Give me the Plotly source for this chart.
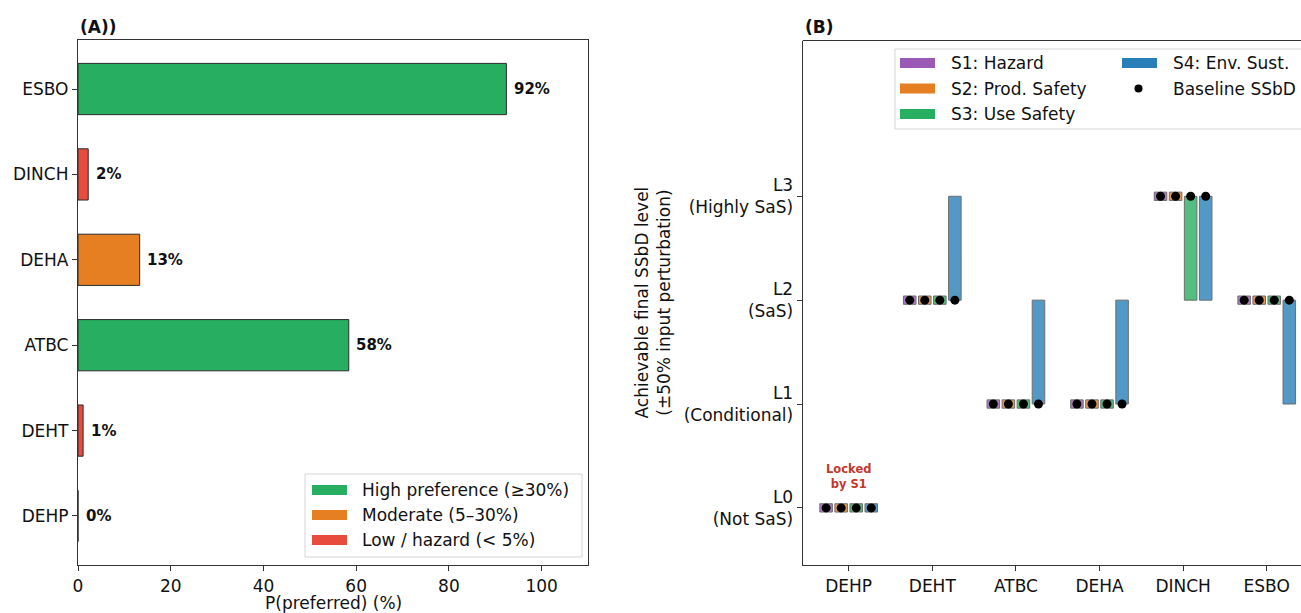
import plotly.graph_objects as go

# ---------------- Data ----------------
# Panel A
chem_A = ["DEHP", "DEHT", "ATBC", "DEHA", "DINCH", "ESBO"]  # bottom -> top
p_pref = [0.0, 1.1, 58.4, 13.3, 2.2, 92.4]
pref_class = ["low", "low", "high", "moderate", "low", "high"]
class_colors = {"high": "#27ae60", "moderate": "#e67e22", "low": "#e74c3c"}
legend_A_labels = ["High preference (\u226530%)", "Moderate (5\u201330%)", "Low / hazard (< 5%)"]
legend_A_keys = ["high", "moderate", "low"]

# Panel B
chem_B = ["DEHP", "DEHT", "ATBC", "DEHA", "DINCH", "ESBO"]
level_labels = ["L0<br>(Not SaS)", "L1<br>(Conditional)", "L2<br>(SaS)", "L3<br>(Highly SaS)"]
baseline = [0, 2, 1, 1, 3, 2]
strategies = ["S1: Hazard", "S2: Prod. Safety", "S3: Use Safety", "S4: Env. Sust."]
strat_colors = ["#9b59b6", "#e67e22", "#27ae60", "#2980b9"]
s_low = [
    [0, 2, 1, 1, 3, 2],   # S1
    [0, 2, 1, 1, 3, 2],   # S2
    [0, 2, 1, 1, 2, 2],   # S3
    [0, 2, 1, 1, 2, 1],   # S4
]
s_high = [
    [0, 2, 1, 1, 3, 2],
    [0, 2, 1, 1, 3, 2],
    [0, 2, 1, 1, 3, 2],
    [0, 3, 2, 2, 3, 2],
]
offsets = [-0.27, -0.09, 0.09, 0.27]
bar_w = 0.15
min_h = 0.08

W, H = 1301, 613
FONT = "DejaVu Sans"
TXT = "#111111"
AX = "#333333"


def px(x):
    return x / W


def py(y):
    return 1 - y / H


fig = go.Figure()

# ---------------- Panel A bars ----------------
fig.add_trace(go.Bar(
    x=p_pref, y=chem_A, orientation="h", width=0.6,
    marker=dict(color=[class_colors[c] for c in pref_class],
                line=dict(color="#2b2b2b", width=1)),
    xaxis="x", yaxis="y", showlegend=False, hoverinfo="x+y",
))

annotations = []
for c, v in zip(chem_A, p_pref):
    annotations.append(dict(
        x=v + 1.2, y=c, xref="x", yref="y", text=f"<b>{v:.0f}%</b>",
        showarrow=False, xanchor="left", yanchor="middle",
        font=dict(family=FONT, size=15, color=TXT),
    ))

# ---------------- Panel B bars ----------------
for si, name in enumerate(strategies):
    xs, hs, bs = [], [], []
    for ci in range(len(chem_B)):
        lo, hi = s_low[si][ci], s_high[si][ci]
        xs.append(ci + offsets[si])
        if hi > lo:
            bs.append(lo)
            hs.append(hi - lo)
        else:
            bs.append(lo - min_h / 2)
            hs.append(min_h)
    fig.add_trace(go.Bar(
        x=xs, y=hs, base=bs, width=bar_w,
        marker=dict(color=strat_colors[si], opacity=0.8,
                    line=dict(color="#4a4a4a", width=1)),
        xaxis="x2", yaxis="y2", showlegend=False, name=name,
    ))

dx, dy = [], []
for si in range(len(strategies)):
    for ci in range(len(chem_B)):
        dx.append(ci + offsets[si])
        dy.append(baseline[ci])
fig.add_trace(go.Scatter(
    x=dx, y=dy, mode="markers",
    marker=dict(color="black", size=9),
    xaxis="x2", yaxis="y2", showlegend=False, name="Baseline SSbD",
))

annotations.append(dict(
    x=0, y=0.14, xref="x2", yref="y2", text="<b>Locked<br>by S1</b>",
    showarrow=False, xanchor="center", yanchor="bottom",
    font=dict(family=FONT, size=11.5, color="#c0392b"),
))

# ---------------- Titles / axis labels ----------------
annotations += [
    dict(x=px(78), y=py(27), xref="paper", yref="paper", text="<b>(A))</b>",
         showarrow=False, xanchor="left", yanchor="middle",
         font=dict(family=FONT, size=17, color=TXT)),
    dict(x=px(803), y=py(27), xref="paper", yref="paper", text="<b>(B)</b>",
         showarrow=False, xanchor="left", yanchor="middle",
         font=dict(family=FONT, size=17, color=TXT)),
    dict(x=px(333), y=py(603), xref="paper", yref="paper", text="P(preferred) (%)",
         showarrow=False, xanchor="center", yanchor="middle",
         font=dict(family=FONT, size=17, color=TXT)),
    dict(x=px(653), y=py(302.5), xref="paper", yref="paper",
         text="Achievable final SSbD level<br>(\u00b150% input perturbation)",
         textangle=-90, showarrow=False, xanchor="center", yanchor="middle",
         font=dict(family=FONT, size=17, color=TXT)),
]

shapes = []
# top spine of panel B (right spine is cut off in the reference)
shapes.append(dict(type="line", xref="paper", yref="paper",
                   x0=px(802.7), x1=1.0, y0=py(40.5), y1=py(40.5),
                   line=dict(color=AX, width=1.2)))

# ---------------- Legend A (manual) ----------------
shapes.append(dict(type="rect", xref="paper", yref="paper",
                   x0=px(305), x1=px(582), y0=py(474), y1=py(557),
                   line=dict(color="#d5d5d5", width=1), fillcolor="rgba(255,255,255,0.85)"))
rows_A = [490, 515, 540]
for k, lab, yy in zip(legend_A_keys, legend_A_labels, rows_A):
    shapes.append(dict(type="rect", xref="paper", yref="paper",
                       x0=px(312), x1=px(347), y0=py(yy + 5), y1=py(yy - 5),
                       line=dict(width=0), fillcolor=class_colors[k]))
    annotations.append(dict(x=px(360), y=py(yy), xref="paper", yref="paper", text=lab,
                            showarrow=False, xanchor="left", yanchor="middle",
                            font=dict(family=FONT, size=17, color=TXT)))

# ---------------- Legend B (manual) ----------------
shapes.append(dict(type="rect", xref="paper", yref="paper",
                   x0=px(895), x1=px(1320), y0=py(49), y1=py(129),
                   line=dict(color="#d5d5d5", width=1), fillcolor="rgba(255,255,255,0.85)"))
rows_B = [63, 88.5, 114]
col_pos = [(900, 949), (900, 949), (900, 949), (1122, 1171)]
row_idx = [0, 1, 2, 0]
for si, name in enumerate(strategies):
    sx, tx = col_pos[si]
    yy = rows_B[row_idx[si]]
    shapes.append(dict(type="rect", xref="paper", yref="paper",
                       x0=px(sx), x1=px(sx + 35), y0=py(yy + 5), y1=py(yy - 5),
                       line=dict(width=0), fillcolor=strat_colors[si]))
    annotations.append(dict(x=px(tx), y=py(yy), xref="paper", yref="paper", text=name,
                            showarrow=False, xanchor="left", yanchor="middle",
                            font=dict(family=FONT, size=17, color=TXT)))
shapes.append(dict(type="circle", xref="paper", yref="paper",
                   x0=px(1134.5), x1=px(1142.5), y0=py(rows_B[1] + 4), y1=py(rows_B[1] - 4),
                   line=dict(width=0), fillcolor="black"))
annotations.append(dict(x=px(1171), y=py(rows_B[1]), xref="paper", yref="paper",
                        text="Baseline SSbD", showarrow=False, xanchor="left", yanchor="middle",
                        font=dict(family=FONT, size=17, color=TXT)))

tickfont = dict(family=FONT, size=17, color=TXT)

fig.update_layout(
    width=W, height=H,
    margin=dict(l=0, r=0, t=0, b=0),
    paper_bgcolor="white", plot_bgcolor="white",
    barmode="overlay",
    font=dict(family=FONT, size=17, color=TXT),
    xaxis=dict(domain=[px(78), px(588)], anchor="y", range=[0, 110],
               tickvals=[0, 20, 40, 60, 80, 100], showgrid=False, zeroline=False,
               showline=True, mirror=True, linecolor=AX, linewidth=1.2,
               ticks="outside", ticklen=5, tickcolor=AX, tickfont=tickfont,
               automargin=False),
    yaxis=dict(domain=[py(565), py(40)], anchor="x", type="category",
               categoryorder="array", categoryarray=chem_A, range=[-0.574, 5.574],
               showgrid=False, zeroline=False,
               showline=True, mirror=True, linecolor=AX, linewidth=1.2,
               ticks="outside", ticklen=5, tickcolor=AX, tickfont=tickfont,
               automargin=False),
    xaxis2=dict(domain=[px(802.7), 1.0], anchor="y2", range=[-0.55, 5.41],
                tickvals=list(range(len(chem_B))), ticktext=chem_B,
                showgrid=False, zeroline=False,
                showline=True, mirror=False, linecolor=AX, linewidth=1.2,
                ticks="outside", ticklen=5, tickcolor=AX, tickfont=tickfont,
                automargin=False),
    yaxis2=dict(domain=[py(565), py(40.5)], anchor="x2", range=[-0.55, 4.5],
                tickvals=[0, 1, 2, 3], ticktext=level_labels,
                showgrid=False, zeroline=False,
                showline=True, mirror=False, linecolor=AX, linewidth=1.2,
                ticks="outside", ticklen=5, tickcolor=AX, tickfont=tickfont,
                automargin=False),
    annotations=annotations,
    shapes=shapes,
)

fig.write_html(
    "out.html",
    config={"displayModeBar": False},
    post_script="document.body.style.margin='0';document.body.style.overflow='hidden';",
)
